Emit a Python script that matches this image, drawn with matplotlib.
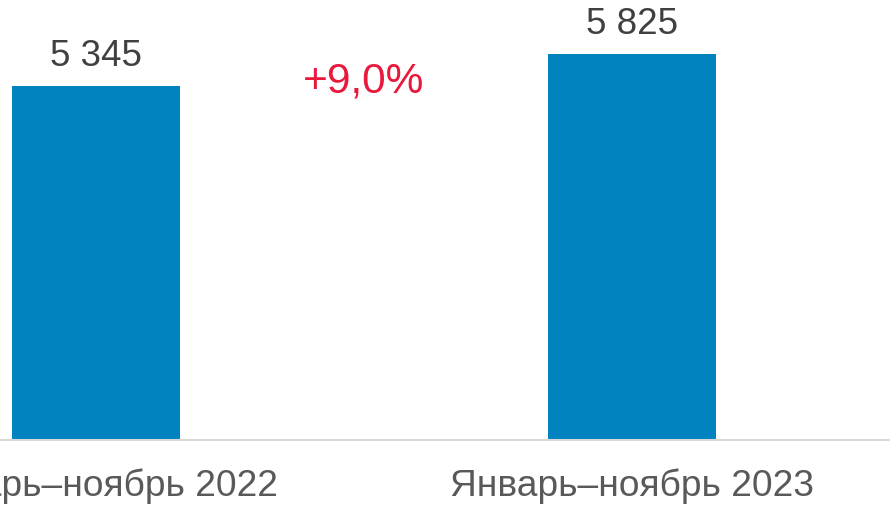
import matplotlib.pyplot as plt

plt.rcParams['font.family'] = ['Liberation Sans', 'DejaVu Sans']

categories = ['Январь–ноябрь 2022', 'Январь–ноябрь 2023']
values = [5345, 5825]
value_labels = ['5 345', '5 825']
change_label = '+9,0%'

fig = plt.figure(figsize=(8.9, 5.09), dpi=100)
ax = fig.add_axes([0, 69 / 509, 1, 440 / 509])

x = list(range(len(categories)))
bars = ax.bar(x, values, width=0.3134, color='#0083BE')

for xi, v, lab in zip(x, values, value_labels):
    ax.annotate(lab, (xi, v), xytext=(0, 14.4), textcoords='offset points',
                ha='center', va='baseline', fontsize=26.5, color='#404040')

ax.text((x[0] + x[1]) / 2, 0.79, change_label, transform=ax.get_xaxis_transform(),
        ha='center', va='baseline', fontsize=30.5, color='#E8193C')

ax.set_xlim(-0.1791, 1.4813)
ax.set_ylim(0, 6640)
ax.set_xticks(x)
ax.set_xticklabels(categories, fontsize=26.7, color='#595959')
ax.tick_params(axis='x', length=0, pad=20.5)
ax.set_yticks([])
for s in ['top', 'right', 'left']:
    ax.spines[s].set_visible(False)
ax.spines['bottom'].set_color('#D9D9D9')
ax.spines['bottom'].set_linewidth(1.5)

fig.savefig('out.png', dpi=100)
